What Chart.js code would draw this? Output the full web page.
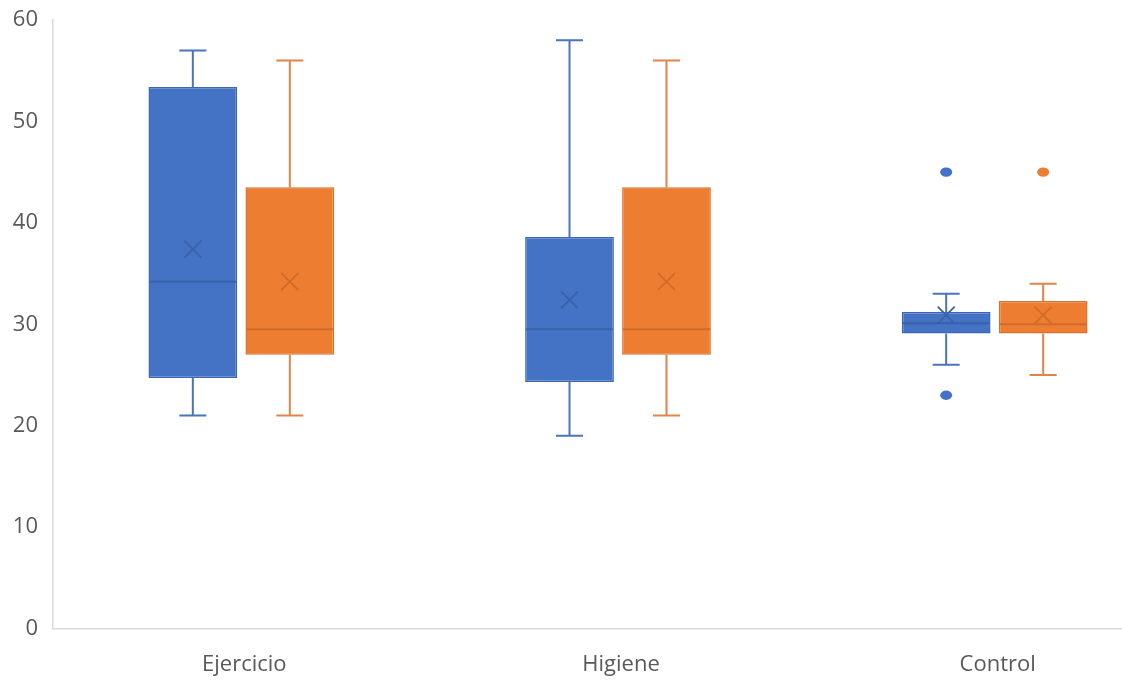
<!DOCTYPE html>
<html>
<head>
<meta charset="utf-8">
<script src="https://cdn.jsdelivr.net/npm/chart.js@4/dist/chart.umd.min.js"></script>
<style>
  html, body { margin: 0; padding: 0; background: #ffffff; overflow: hidden; }
  #wrap { width: 1122px; height: 681px; overflow: hidden; }
  canvas { display: block; }
</style>
</head>
<body>
<div id="wrap"><canvas id="chart" width="1183" height="681"></canvas></div>
<script>
// Groups along the x axis
const categories = ['Ejercicio', 'Higiene', 'Control'];

// First series (blue) five-number summary, mean and outliers per group
const blueMin      = [21, 19, 26];
const blueQ1       = [24.7, 24.3, 29.1];
const blueMedian   = [34.2, 29.5, 30.1];
const blueQ3       = [53.4, 38.6, 31.2];
const blueMax      = [57, 58, 33];
const blueMean     = [37.4, 32.4, 30.9];
const blueOutliers = [[], [], [45, 23]];

// Second series (orange)
const orangeMin      = [21, 21, 25];
const orangeQ1       = [27, 27, 29.1];
const orangeMedian   = [29.5, 29.5, 30];
const orangeQ3       = [43.5, 43.5, 32.3];
const orangeMax      = [56, 56, 34];
const orangeMean     = [34.2, 34.2, 30.9];
const orangeOutliers = [[], [], [45]];

// Value axis ticks
const yTicks = [0, 10, 20, 30, 40, 50, 60];

const seriesStats = [
  { min: blueMin, q1: blueQ1, med: blueMedian, q3: blueQ3, max: blueMax, mean: blueMean, out: blueOutliers,
    fill: '#4472C4', edge: '#3C67B4', line: '#4A74BE', mark: '#3A62AA' },
  { min: orangeMin, q1: orangeQ1, med: orangeMedian, q3: orangeQ3, max: orangeMax, mean: orangeMean, out: orangeOutliers,
    fill: '#ED7D31', edge: '#D9722C', line: '#E0854A', mark: '#CF6C2A' }
];

// Whiskers, median lines, mean crosses and outlier dots, placed from each bar element and the y scale
const boxExtras = {
  id: 'boxExtras',
  afterDatasetsDraw(chart) {
    const ctx = chart.ctx;
    const y = chart.scales.y;
    seriesStats.forEach((s, d) => {
      const meta = chart.getDatasetMeta(d);
      meta.data.forEach((bar, i) => {
        const cx = bar.x;
        const half = bar.width / 2;
        const cap = 13.5;
        ctx.save();
        // whiskers
        ctx.strokeStyle = s.line;
        ctx.lineWidth = 2;
        ctx.beginPath();
        ctx.moveTo(cx, y.getPixelForValue(s.q3[i]));
        ctx.lineTo(cx, y.getPixelForValue(s.max[i]));
        ctx.moveTo(cx - cap, y.getPixelForValue(s.max[i]));
        ctx.lineTo(cx + cap, y.getPixelForValue(s.max[i]));
        ctx.moveTo(cx, y.getPixelForValue(s.q1[i]));
        ctx.lineTo(cx, y.getPixelForValue(s.min[i]));
        ctx.moveTo(cx - cap, y.getPixelForValue(s.min[i]));
        ctx.lineTo(cx + cap, y.getPixelForValue(s.min[i]));
        ctx.stroke();
        // median
        ctx.strokeStyle = s.mark;
        ctx.lineWidth = 2;
        ctx.beginPath();
        const my = y.getPixelForValue(s.med[i]);
        ctx.moveTo(cx - half + 1, my);
        ctx.lineTo(cx + half - 1, my);
        ctx.stroke();
        // mean cross
        const ay = y.getPixelForValue(s.mean[i]);
        const r = 8.5;
        ctx.lineWidth = 1.8;
        ctx.beginPath();
        ctx.moveTo(cx - r, ay - r);
        ctx.lineTo(cx + r, ay + r);
        ctx.moveTo(cx + r, ay - r);
        ctx.lineTo(cx - r, ay + r);
        ctx.stroke();
        // outliers
        ctx.fillStyle = s.fill;
        s.out[i].forEach(v => {
          ctx.beginPath();
          ctx.ellipse(cx, y.getPixelForValue(v), 6, 4.7, 0, 0, Math.PI * 2);
          ctx.fill();
        });
        ctx.restore();
      });
    });
  }
};

new Chart(document.getElementById('chart'), {
  type: 'bar',
  data: {
    labels: categories,
    datasets: seriesStats.map((s, d) => ({
      label: d === 0 ? 'Serie 1' : 'Serie 2',
      data: s.q1.map((v, i) => [v, s.q3[i]]),
      backgroundColor: s.fill,
      borderColor: s.edge,
      borderWidth: 1.5,
      borderSkipped: false,
      categoryPercentage: 0.515,
      barPercentage: 0.915
    }))
  },
  options: {
    responsive: false,
    animation: false,
    layout: { padding: { top: 20, left: 0, right: 0, bottom: 0 } },
    plugins: { legend: { display: false }, tooltip: { enabled: false } },
    scales: {
      x: {
        grid: { display: false, drawTicks: false },
        border: { display: true, color: '#D9D9D9', width: 1.5 },
        ticks: { color: '#595959', font: { family: 'Open Sans', size: 22 }, padding: 23, labelOffset: 3 },
        afterFit(scale) { scale.height = 52.5; }
      },
      y: {
        min: 0,
        max: 60,
        afterBuildTicks(scale) { scale.ticks = yTicks.map(v => ({ value: v })); },
        grid: { display: false, drawTicks: false },
        border: { display: true, color: '#D9D9D9', width: 1.5 },
        ticks: { color: '#595959', font: { family: 'Open Sans', size: 22 }, padding: 15 },
        afterFit(scale) {
          scale.width = 53;
          // keep the plot top at the layout padding rather than the label overflow
          scale.paddingTop = 0;
          scale.paddingBottom = 0;
        }
      }
    }
  },
  plugins: [boxExtras]
});
</script>
</body>
</html>
